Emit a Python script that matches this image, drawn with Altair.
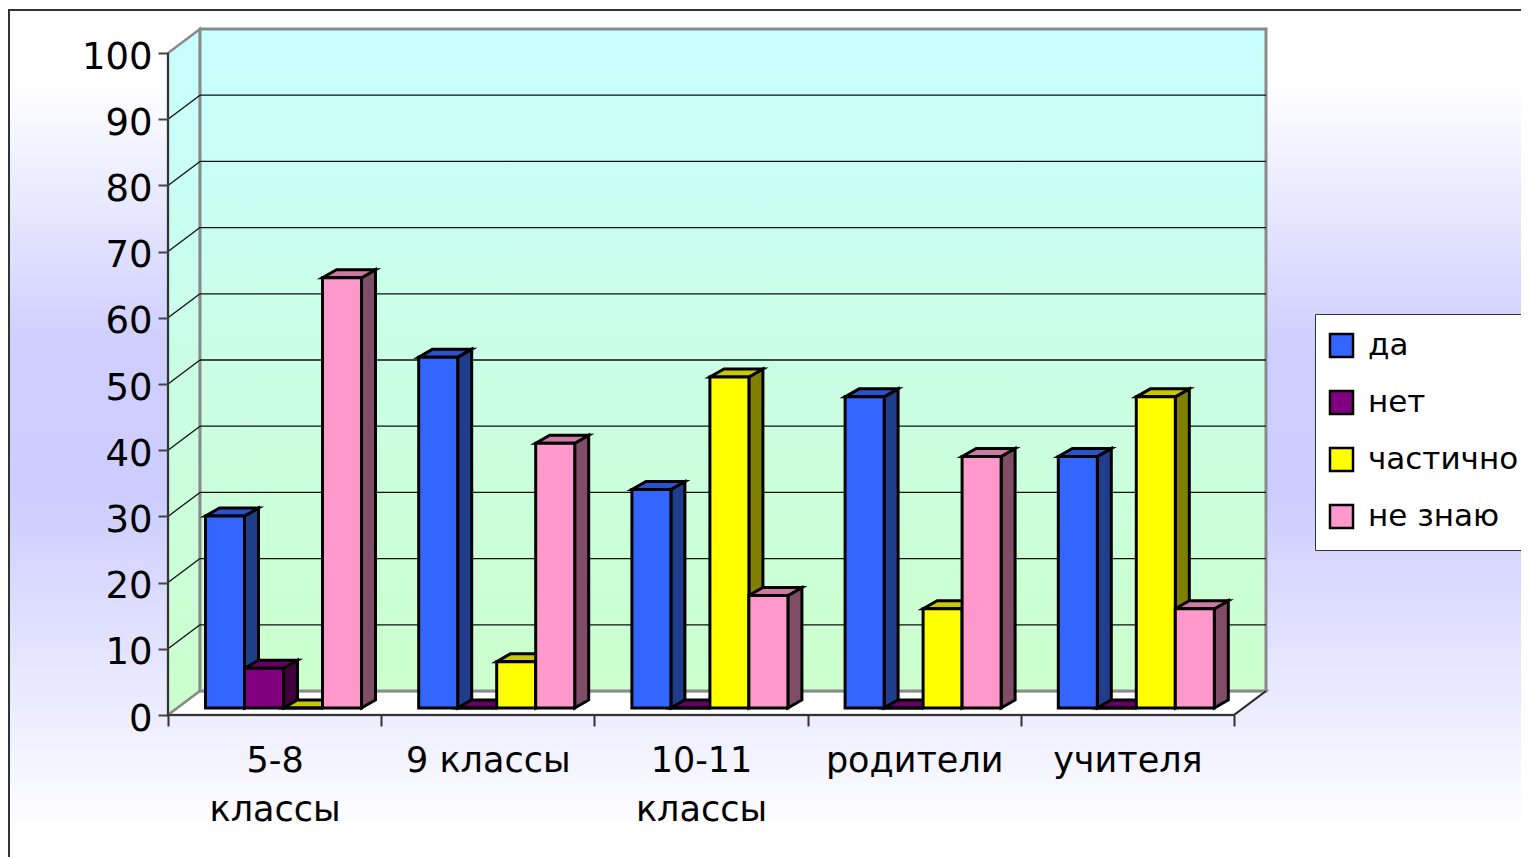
import json
import altair as alt
import pandas as pd

categories = ["5-8\nклассы", "9 классы", "10-11\nклассы", "родители", "учителя"]
series = ["да", "нет", "частично", "не знаю"]
da = [29, 53, 33, 47, 38]
net = [6, 0, 0, 0, 0]
chast = [0, 7, 50, 15, 47]
ne_znayu = [65, 40, 17, 38, 15]
front_colors = ["#3366ff", "#800080", "#ffff00", "#ff99cc"]
top_colors = ["#2952cc", "#660066", "#c8c800", "#cc7aa3"]
side_colors = ["#1f3d8a", "#400040", "#808000", "#804d66"]
ticks = list(range(0, 101, 10))

FONT = "DejaVu Sans"
PX_X = 213.2   # pixels per category
PX_Y = 6.62    # pixels per value unit
WALL_DX, WALL_DY = 32 / PX_X, 24 / PX_Y
BAR_DX, BAR_DY = 14 / PX_X, 8 / PX_Y
BAR_W = 39 / PX_X
GROUP_START = 37.5 / PX_X
BASE = 7 / PX_Y
N = len(categories)
W, H = 1098, 686

x_scale = alt.Scale(domain=[0, N + WALL_DX], nice=False, zero=False)
y_scale = alt.Scale(domain=[0, 100 + WALL_DY], nice=False, zero=False)

values = [da, net, chast, ne_znayu]
front, tops, sides = [], [], []
for g in range(N):
    for s, name in enumerate(series):
        v = values[s][g]
        x0 = g + GROUP_START + s * BAR_W
        x1 = x0 + BAR_W
        t = v + BASE
        bid = f"{g}-{s}"
        front.append(dict(id=bid, series=name, x0=x0, x1=x1, y0=BASE, y1=t))
        tops.append(dict(id=bid, c=top_colors[s], y=t, x0=x0, x1=x1))
        tops.append(dict(id=bid, c=top_colors[s], y=t + BAR_DY, x0=x0 + BAR_DX, x1=x1 + BAR_DX))
        sides.append(dict(id=bid, c=side_colors[s], x=x1, y0=BASE, y1=t))
        sides.append(dict(id=bid, c=side_colors[s], x=x1 + BAR_DX, y0=BASE + BAR_DY, y1=t + BAR_DY))

front = pd.DataFrame(front)
tops = pd.DataFrame(tops)
sides = pd.DataFrame(sides)

label_array = json.dumps([c.split("\n") for c in categories], ensure_ascii=False)
x_axis = alt.Axis(
    values=[i / 2 for i in range(2 * N + 1)], grid=False, domain=False, title=None,
    tickSize=11, tickColor="#333333", tickWidth=2,
    tickOpacity={"condition": {"test": "datum.value % 1 == 0", "value": 1}, "value": 0},
    labelExpr=f"datum.value % 1 ? {label_array}[floor(datum.value)] : ''",
    labelFont=FONT, labelFontSize=35, labelColor="#000000", labelPadding=17,
    labelLineHeight=49, labelBaseline="top", labelOverlap=False, labelFlush=False, labelBound=False,
    zindex=1,
)
y_axis = alt.Axis(
    values=ticks, grid=False, domain=False, title=None,
    tickSize=10, tickColor="#444444", tickWidth=2,
    labelFont=FONT, labelFontSize=37, labelColor="#000000", labelPadding=6, labelOffset=4,
    labelOverlap=False, labelFlush=False, labelBound=False, format="d",
    zindex=1,
)

X = lambda f="x": alt.X(f"{f}:Q", scale=x_scale, axis=x_axis)
Y = lambda f="y": alt.Y(f"{f}:Q", scale=y_scale, axis=y_axis)

def vgrad(stops):
    return alt.LinearGradient(gradient="linear", x1=0, x2=0, y1=0, y2=1,
                              stops=[alt.GradientStop(offset=o, color=c) for o, c in stops])

# Panel behind the chart
panel = alt.Chart(pd.DataFrame({"a": [0]})).mark_rect(
    fill=vgrad([(0.08, "#ffffff"), (0.38, "#d0d0ff"), (0.56, "#ccccff"), (0.96, "#ffffff")]),
    stroke="#333333", strokeWidth=2,
).encode(x=alt.value(-159), x2=alt.value(1372), y=alt.value(-19), y2=alt.value(840))

wall_fill = vgrad([(0, "#c8ffff"), (1, "#ccffcc")])

back_wall = alt.Chart(pd.DataFrame([dict(x0=WALL_DX, x1=N + WALL_DX, y0=WALL_DY, y1=100 + WALL_DY)])).mark_rect(
    fill=wall_fill, stroke="#8a8a8a", strokeWidth=3
).encode(x=X("x0"), x2="x1:Q", y=Y("y0"), y2="y1:Q")

left_wall = alt.Chart(pd.DataFrame([
    dict(x=0, y0=0, y1=100), dict(x=WALL_DX, y0=WALL_DY, y1=100 + WALL_DY)
])).mark_area(fill=wall_fill, stroke="#8a8a8a", strokeWidth=2.5, orient="vertical", opacity=1).encode(
    x=X(), y=Y("y0"), y2="y1:Q"
)

floor = alt.Chart(pd.DataFrame([
    dict(y=0, x0=0, x1=N), dict(y=WALL_DY, x0=WALL_DX, x1=N + WALL_DX)
])).mark_area(fill="#ffffff", stroke="#8a8a8a", strokeWidth=2.5, orient="horizontal", opacity=1).encode(
    y=Y(), x=X("x0"), x2="x1:Q"
)

grid_back = alt.Chart(pd.DataFrame([
    dict(x0=WALL_DX, x1=N + WALL_DX, y=v + WALL_DY) for v in ticks[1:-1]
])).mark_rule(color="#111111", strokeWidth=1.3).encode(x=X("x0"), x2="x1:Q", y=Y())

slant_rows = []
for v in ticks[1:-1]:
    slant_rows += [dict(id=f"g{v}", x=0, y=v), dict(id=f"g{v}", x=WALL_DX, y=v + WALL_DY)]
slant_rows += [dict(id="r", x=N, y=0), dict(id="r", x=N + WALL_DX, y=WALL_DY)]
grid_left = alt.Chart(pd.DataFrame(slant_rows)).mark_line(color="#111111", strokeWidth=1.3).encode(
    x=X(), y=Y(), detail="id:N"
)

axis_lines = alt.Chart(pd.DataFrame([
    dict(x0=0, x1=0, y0=0, y1=100), dict(x0=0, x1=N, y0=0, y1=0)
])).mark_rule(color="#333333", strokeWidth=2).encode(x=X("x0"), x2="x1:Q", y=Y("y0"), y2="y1:Q")

side_layer = alt.Chart(sides).mark_area(stroke="#000000", strokeWidth=3, orient="vertical", opacity=1).encode(
    x=X(), y=Y("y0"), y2="y1:Q", detail="id:N", fill=alt.Fill("c:N", scale=None, legend=None)
)
top_layer = alt.Chart(tops).mark_area(stroke="#000000", strokeWidth=3, orient="horizontal", opacity=1).encode(
    y=Y(), x=X("x0"), x2="x1:Q", detail="id:N", fill=alt.Fill("c:N", scale=None, legend=None)
)
front_layer = alt.Chart(front).mark_bar(stroke="#000000", strokeWidth=3, opacity=1, cornerRadius=0).encode(
    x=X("x0"), x2="x1:Q", y=Y("y0"), y2="y1:Q",
    color=alt.Color("series:N", sort=series, scale=alt.Scale(domain=series, range=front_colors),
        legend=alt.Legend(
            title=None, orient="none", legendX=1147, legendY=285,
            fillColor="#ffffff", strokeColor="#333333", padding=16,
            symbolType="square", symbolSize=530, symbolStrokeColor="#000000", symbolStrokeWidth=2.5,
            labelFont=FONT, labelFontSize=31, labelColor="#000000", labelLimit=400,
            labelOffset=11, rowPadding=22, symbolOffset=-5, symbolOpacity=1, columnPadding=60,
        )),
)

chart = alt.layer(
    panel, left_wall, floor, back_wall, grid_back, grid_left, axis_lines,
    side_layer, top_layer, front_layer,
).properties(
    width=W, height=H,
    autosize=alt.AutoSizeParams(type="none"),
    padding={"left": 160, "top": 21, "right": 255, "bottom": 142},
).configure_view(stroke=None)

chart.save("out.html", embed_options={"renderer": "svg", "actions": False})
